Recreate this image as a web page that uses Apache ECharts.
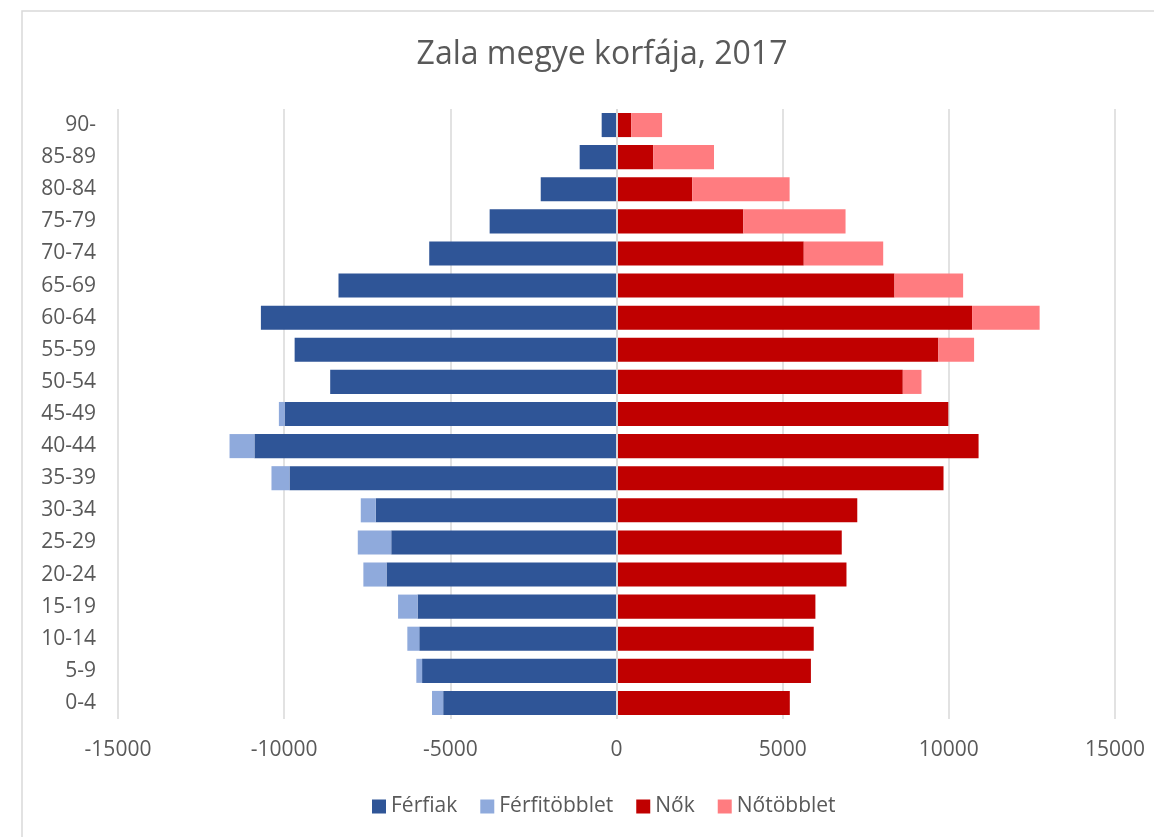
<!DOCTYPE html>
<html>
<head>
<meta charset="utf-8">
<script src="https://cdn.jsdelivr.net/npm/echarts@6/dist/echarts.min.js"></script>
<style>
html,body{margin:0;padding:0;background:#fff;}
#chart{width:1154px;height:837px;}
</style>
</head>
<body>
<div id="chart"></div>
<script>
// korcsoportok alulról felfelé
var korcsoportok = ['0-4','5-9','10-14','15-19','20-24','25-29','30-34','35-39','40-44','45-49',
    '50-54','55-59','60-64','65-69','70-74','75-79','80-84','85-89','90-'];
var ferfiak      = [5215,5850,5935,5985,6920,6778,7245,9840,10895,9985,8615,9685,10700,8365,5635,3817,2280,1108,446];
var ferfitobblet = [336,173,359,588,697,1007,450,542,749,174,0,0,0,0,0,0,0,0,0];
var nok          = [5215,5850,5935,5985,6920,6778,7245,9840,10895,9985,8615,9685,10700,8365,5635,3817,2280,1108,446];
var notobblet    = [0,0,0,0,0,0,0,0,0,0,562,1075,2032,2065,2390,3075,2929,1826,925];

var chart = echarts.init(document.getElementById('chart'));
var font = 'Open Sans';

function neg(arr){
    return arr.map(function(v){ return -v; });
}

var option = {
    animation: false,
    textStyle: { fontFamily: font },
    title: {
        text: 'Zala megye korfája, 2017',
        left: 597,
        textAlign: 'center',
        top: 34,
        textStyle: { fontFamily: font, fontSize: 32, fontWeight: 'normal', color: '#595959' }
    },
    color: ['#2F5597','#8FAADC','#C00000','#FF7C80'],
    legend: {
        top: 791,
        left: 367,
        itemWidth: 14,
        itemHeight: 14,
        itemGap: 23,
        icon: 'rect',
        textStyle: { fontFamily: font, fontSize: 21, color: '#595959' },
        data: ['Férfiak','Férfitöbblet','Nők','Nőtöbblet']
    },
    graphic: [{
        type: 'rect',
        shape: { x: 22, y: 11, width: 1200, height: 900 },
        style: { fill: 'none', stroke: '#d9d9d9', lineWidth: 1.5 },
        silent: true
    }],
    grid: { left: 118, right: 39, top: 109, bottom: 118 },
    xAxis: {
        type: 'value',
        min: -15000,
        max: 15000,
        interval: 5000,
        axisLine: { show: false },
        axisTick: { show: false },
        axisLabel: {
            margin: 21,
            fontSize: 21,
            color: '#595959',
            formatter: function(v){ return String(v); }
        },
        splitLine: { lineStyle: { color: '#d9d9d9', width: 1.5 } }
    },
    yAxis: {
        type: 'category',
        data: korcsoportok,
        axisLine: { show: false },
        axisTick: { show: false },
        axisLabel: { margin: 22, fontSize: 21, color: '#595959' }
    },
    series: [
        {
            name: 'Férfiak', type: 'bar', stack: 'korfa', barCategoryGap: '25%',
            data: neg(ferfiak),
            markLine: {
                silent: true, symbol: 'none', label: { show: false },
                lineStyle: { color: '#d9d9d9', width: 2, type: 'solid' },
                data: [{ xAxis: 0 }]
            }
        },
        { name: 'Férfitöbblet', type: 'bar', stack: 'korfa', data: neg(ferfitobblet) },
        { name: 'Nők', type: 'bar', stack: 'korfa', data: nok },
        { name: 'Nőtöbblet', type: 'bar', stack: 'korfa', data: notobblet }
    ]
};
chart.setOption(option);
</script>
</body>
</html>
